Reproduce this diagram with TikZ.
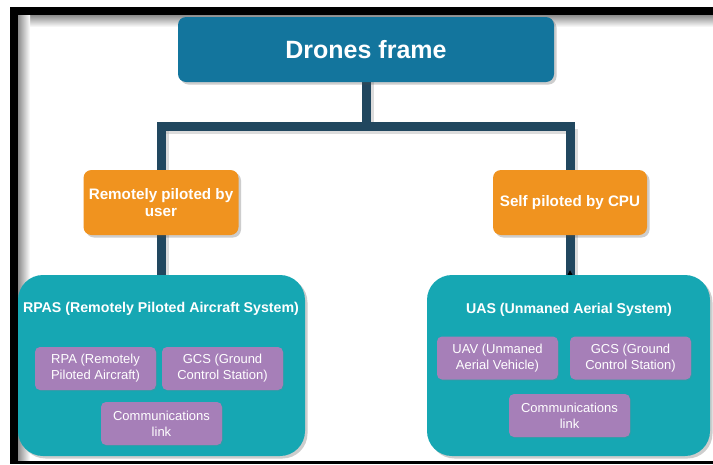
\documentclass[tikz,border=0pt]{standalone}
\usepackage{fontspec}
\setmainfont{Liberation Sans}
\usetikzlibrary{shadows,arrows.meta}
\definecolor{topblue}{HTML}{13759D}
\definecolor{orng}{HTML}{F0931F}
\definecolor{teal2}{HTML}{16A7B3}
\definecolor{purp}{HTML}{A67FB8}
\definecolor{navy}{HTML}{21475F}
\pgfdeclarelayer{bg}
\pgfdeclarelayer{frm}
\pgfsetlayers{frm,bg,main}
\tikzset{
  shd/.style={drop shadow={shadow xshift=2.5pt,shadow yshift=-2.5pt,opacity=0.28,fill=black!70}},
  topbox/.style={fill=topblue,rounded corners=8pt,minimum width=376pt,minimum height=65pt,inner sep=0pt,shd,
    text=white,font=\fontsize{25}{28}\selectfont\bfseries},
  orbox/.style={fill=orng,rounded corners=8pt,minimum height=65pt,inner sep=0pt,shd,align=center,
    text=white,font=\fontsize{15.2}{17}\selectfont\bfseries},
  tealbox/.style={fill=teal2,rounded corners=25pt,minimum height=181pt,inner sep=0pt,shd},
  ttl/.style={text=white,font=\fontsize{14.2}{16}\selectfont\bfseries,inner sep=0pt},
  pbox/.style={fill=purp,rounded corners=5pt,minimum width=121pt,minimum height=43pt,inner sep=0pt,align=center,
    text=white,font=\fontsize{13}{16}\selectfont, drop shadow={shadow xshift=1pt,shadow yshift=-1pt,opacity=0.2}},
  conn/.style={draw=navy,line width=9pt},
  connshd/.style={draw=black!30,line width=9pt,opacity=0.45},
}
\begin{document}
\begin{tikzpicture}[x=1pt,y=-1pt]
\useasboundingbox (0,0) rectangle (713,464);
\begin{pgfonlayer}{frm}
\fill[white] (0,0) rectangle (713,464);
\shade[top color=black!45,bottom color=white] (18,15) rectangle (713,27);
\shade[left color=black!45,right color=white] (18,15) rectangle (30,461);
\fill[black] (10,7) rectangle (713,15);
\fill[black] (10,7) rectangle (18,464);
\fill[black] (10,461) rectangle (713,464);
\end{pgfonlayer}

\node[topbox] (top) at (366,49.5) {Drones frame};
\node[orbox,minimum width=155pt] (rem) at (161,202.5) {Remotely piloted by\\user};
\node[orbox,minimum width=154pt] (self) at (570,202.5) {Self piloted by CPU};
\node[tealbox,minimum width=287pt] (rpas) at (161.5,365.5) {};
\node[tealbox,minimum width=283pt] (uas) at (568.5,365.5) {};
\coordinate (j) at (366,126);
\coordinate (lb) at (rem.south |- rpas.north);
\coordinate (rb) at (self.south |- uas.north);

\begin{pgfonlayer}{bg}
\draw[connshd] ([xshift=3pt]top.south) -- ([xshift=3pt,yshift=-3pt]j);
\draw[connshd] ([xshift=3pt,yshift=-3pt]j -| rem.north) -- ([xshift=3pt,yshift=-3pt]j -| self.north);
\draw[connshd] ([xshift=3pt,yshift=-3pt]j -| rem.north) -- ([xshift=3pt]rem.north);
\draw[connshd] ([xshift=3pt,yshift=-3pt]j -| self.north) -- ([xshift=3pt]self.north);
\draw[connshd] ([xshift=3pt]rem.south) -- ([xshift=3pt]lb);
\draw[connshd] ([xshift=3pt]self.south) -- ([xshift=3pt]rb);
\draw[conn] (top.south) -- (j);
\draw[conn] (j) -| (rem.north);
\draw[conn] (j) -| (self.north);
\draw[conn] (rem.south) -- (lb);
\draw[conn] (self.south) -- (rb);
\end{pgfonlayer}
\fill[black] ([yshift=4.5pt]rb) -- ([xshift=2.5pt]rb) -- ([xshift=-2.5pt]rb) -- cycle;

\node[ttl] (rpast) at (161,309) {RPAS (Remotely Piloted Aircraft System)};
\node[ttl] (uast) at (569,310) {UAS (Unmaned Aerial System)};

\node[pbox] (rpa) at (95.5,368.5) {RPA (Remotely\\Piloted Aircraft)};
\node[pbox] (gcs1) at (222.5,368.5) {GCS (Ground\\Control Station)};
\node[pbox] (com1) at (161.5,423.5) {Communications\\link};

\node[pbox] (uav) at (497.5,358) {UAV (Unmaned\\Aerial Vehicle)};
\node[pbox] (gcs2) at (630.5,358) {GCS (Ground\\Control Station)};
\node[pbox] (com2) at (569.5,415.5) {Communications\\link};
\end{tikzpicture}
\end{document}
